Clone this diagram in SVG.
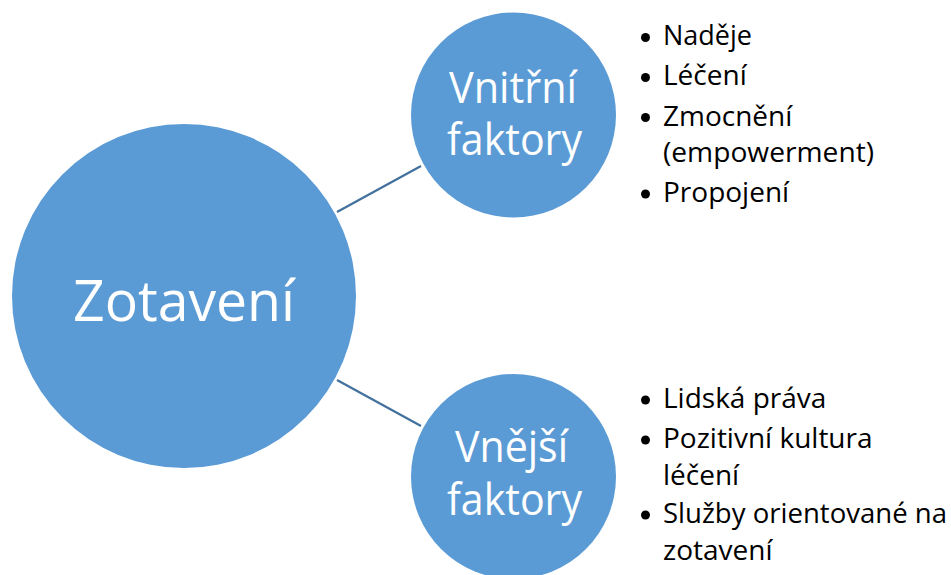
<svg xmlns="http://www.w3.org/2000/svg" width="951" height="575" viewBox="0 0 951 575">
<style>
.node{fill:#5B9BD5;}
.lbl{fill:#FFFFFF;font-family:"Open Sans","Liberation Sans",sans-serif;text-anchor:middle;}
.big{font-size:56px;}
.mid{font-size:43px;}
.li{fill:#000000;font-family:"Open Sans","Liberation Sans",sans-serif;font-size:28px;}
.bul{fill:#000000;}
.conn{stroke:#41719C;stroke-width:2.2;fill:none;}
</style>
<rect width="951" height="575" fill="#FFFFFF"/>
<g id="connectors">
<line class="conn" x1="337" y1="212" x2="421" y2="166"/>
<line class="conn" x1="337" y1="380" x2="421" y2="426"/>
</g>
<g id="zotaveni">
<circle class="node" cx="184" cy="296" r="172"/>
<text class="lbl big" x="184" y="321" textLength="222" lengthAdjust="spacingAndGlyphs">Zotavení</text>
</g>
<g id="vnitrni">
<circle class="node" cx="513.5" cy="115" r="102.5"/>
<text class="lbl mid" x="513" y="103" textLength="128" lengthAdjust="spacingAndGlyphs">Vnitřní</text>
<text class="lbl mid" x="514.5" y="155" textLength="135" lengthAdjust="spacingAndGlyphs">faktory</text>
</g>
<g id="vnejsi">
<circle class="node" cx="513.5" cy="476.5" r="102.5"/>
<text class="lbl mid" x="511.5" y="462" textLength="113" lengthAdjust="spacingAndGlyphs">Vnější</text>
<text class="lbl mid" x="514.5" y="515" textLength="135" lengthAdjust="spacingAndGlyphs">faktory</text>
</g>
<g id="vnitrni-list">
<circle class="bul" cx="645.5" cy="37.5" r="4.5"/>
<text class="li" x="663" y="45" textLength="89" lengthAdjust="spacingAndGlyphs">Naděje</text>
<circle class="bul" cx="645.5" cy="77.5" r="4.5"/>
<text class="li" x="663" y="85">Léčení</text>
<circle class="bul" cx="645.5" cy="117.5" r="4.5"/>
<text class="li" x="663" y="126">Zmocnění</text>
<text class="li" x="663" y="162" textLength="211" lengthAdjust="spacingAndGlyphs">(empowerment)</text>
<circle class="bul" cx="645.5" cy="194" r="4.5"/>
<text class="li" x="663" y="202">Propojení</text>
</g>
<g id="vnejsi-list">
<circle class="bul" cx="645.5" cy="400" r="4.5"/>
<text class="li" x="663" y="408">Lidská práva</text>
<circle class="bul" cx="645.5" cy="440" r="4.5"/>
<text class="li" x="663" y="448">Pozitivní kultura</text>
<text class="li" x="663" y="485">léčení</text>
<circle class="bul" cx="645.5" cy="515" r="4.5"/>
<text class="li" x="663" y="523" textLength="284" lengthAdjust="spacingAndGlyphs">Služby orientované na</text>
<text class="li" x="663" y="560">zotavení</text>
</g>
</svg>
